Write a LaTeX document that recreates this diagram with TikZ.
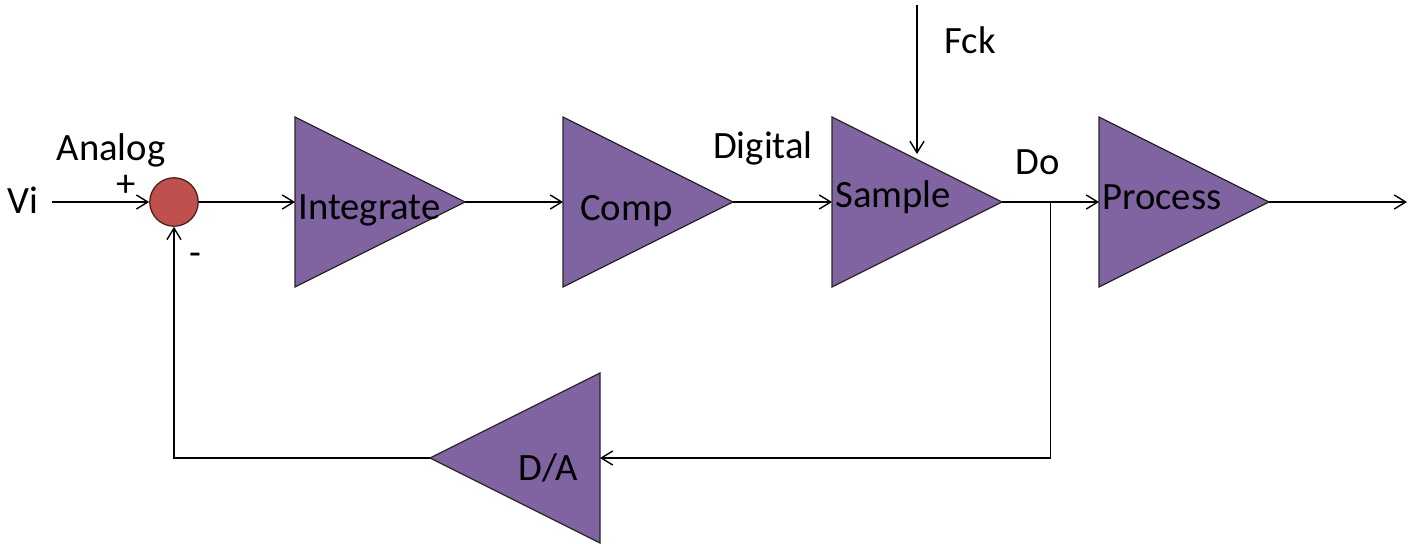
\documentclass[tikz,border=0pt]{standalone}
\usepackage{fontspec}
\setmainfont{Carlito}
\usetikzlibrary{calc,shapes.geometric,arrows.meta}
\definecolor{ampPurple}{RGB}{128,100,162}
\definecolor{sumRed}{RGB}{192,80,77}
\definecolor{sumEdge}{RGB}{70,30,30}
\tikzset{
  amp/.style={isosceles triangle,isosceles triangle stretches,minimum width=3.4cm,
    minimum height=3.4cm,inner sep=0pt,outer sep=0pt,fill=ampPurple,draw=black!85,line width=0.7pt},
  sumnode/.style={circle,minimum size=0.97cm,inner sep=0pt,fill=sumRed,draw=sumEdge,line width=0.7pt},
  sig/.style={line width=0.8pt,-{Straight Barb[length=6.5pt,width=8pt]}},
  txt/.style={inner sep=0pt,text=black}
}

\begin{document}
\begin{tikzpicture}[x=0.02cm,y=-0.02cm,font=\fontsize{22pt}{26pt}\selectfont]
\useasboundingbox (0,0) rectangle (1416,544);
% forward path
\node[sumnode] (sum) at (174,202) {};
\node[amp,anchor=lower side] (integ) at (295,202) {};
\node[amp,anchor=lower side] (comp) at (563,202) {};
\node[amp,anchor=lower side] (samp) at (832,202) {};
\node[amp,anchor=lower side] (proc) at (1099,202) {};
% feedback D/A points left
\node[amp,shape border rotate=180,anchor=lower side] (da) at (600,458) {};

% texts
\node[txt,anchor=west] (integ-t) at (298,210) {Integrate};
\node[txt,anchor=west] (comp-t) at (580,211) {Comp};
\node[txt,anchor=west] (samp-t) at (835,197) {Sample};
\node[txt,anchor=west] (proc-t) at (1102,197) {Process};
\node[txt,anchor=west] (da-t) at (518,468) {D/A};
\node[txt,anchor=east] (vi) at (39,200) {Vi};
\node[txt] (analog) at (111,150) {Analog};
\node[txt] (plus) at (126,186) {+};
\node[txt] (minus) at (195,259) {-};
\node[txt] (digital) at (763,148) {Digital};
\node[txt] (fck) at (970,40) {Fck};
\node[txt] (do) at (1038,162) {Do};

\coordinate (vin) at (52,202);
\coordinate (clk) at (917,5);
\coordinate (clkin) at (917,154);
\coordinate (tap) at ($(samp.apex)!0.5!(proc.lower side)$);
\coordinate (out) at (1407,202);

\draw[sig] (vin) -- (sum.west);
\draw[sig] (sum.east) -- (integ.lower side);
\draw[sig] (integ.apex) -- (comp.lower side);
\draw[sig] (comp.apex) -- (samp.lower side);
\draw[sig] (samp.apex) -- (proc.lower side);
\draw[sig] (proc.apex) -- (out);
\draw[sig] (clk) -- (clkin);
\draw[sig] (tap) |- (da.lower side);
\draw[sig] (da.apex) -| (sum.south);
\end{tikzpicture}
\end{document}
